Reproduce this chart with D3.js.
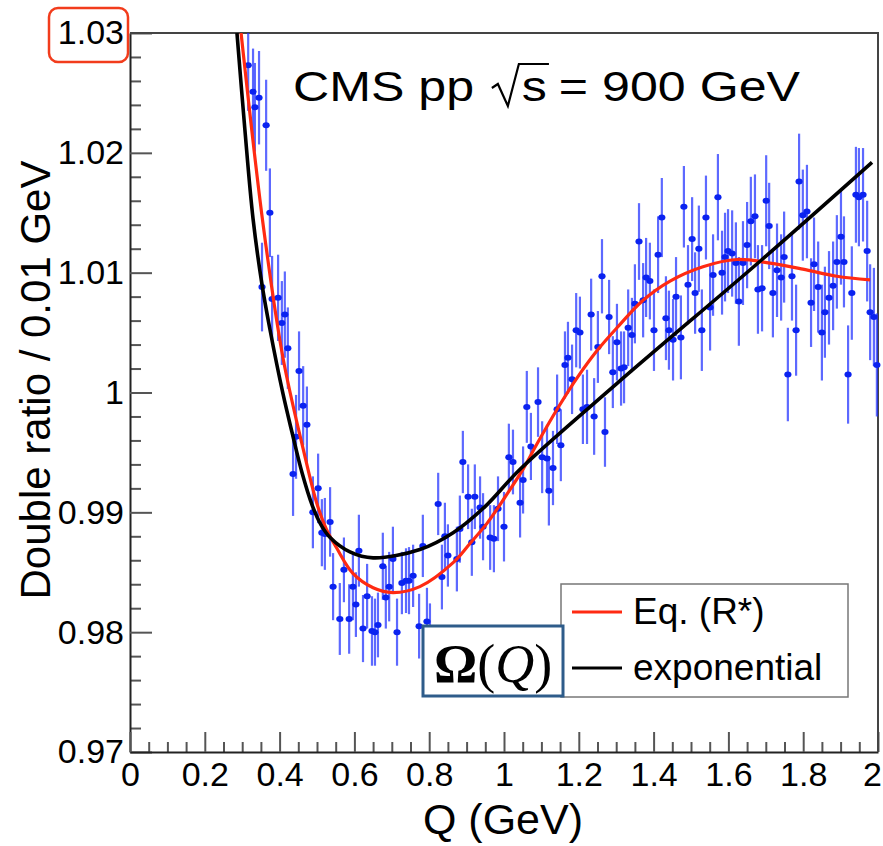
<!DOCTYPE html>
<html>
<head>
<meta charset="utf-8">
<script src="https://cdn.jsdelivr.net/npm/d3@7"></script>
<style>
  html, body { margin: 0; padding: 0; background: #fff; }
  svg { display: block; font-family: "Liberation Sans", Arial, Helvetica, sans-serif; }
</style>
</head>
<body>
<svg id="chart" width="883" height="846"></svg>
<script>
// measured points (Q in GeV), double ratio and its error
const q = [
  0.316, 0.329, 0.334, 0.345, 0.353, 0.364, 0.374, 0.380, 0.396, 0.406,
  0.414, 0.422, 0.436, 0.444, 0.452, 0.463, 0.473, 0.489, 0.503, 0.513,
  0.521, 0.535, 0.543, 0.561, 0.572, 0.586, 0.596, 0.604, 0.612, 0.623,
  0.634, 0.647, 0.655, 0.663, 0.676, 0.684, 0.693, 0.703, 0.714, 0.727,
  0.738, 0.746, 0.757, 0.773, 0.783, 0.794, 0.802, 0.824, 0.834, 0.842,
  0.850, 0.874, 0.882, 0.890, 0.904, 0.914, 0.922, 0.936, 0.944, 0.963,
  0.973, 0.984, 1.000, 1.013, 1.024, 1.043, 1.051, 1.061, 1.072, 1.091,
  1.102, 1.115, 1.120, 1.131, 1.142, 1.152, 1.163, 1.171, 1.182, 1.193,
  1.203, 1.211, 1.222, 1.233, 1.241, 1.251, 1.262, 1.270, 1.281, 1.291,
  1.302, 1.313, 1.321, 1.332, 1.342, 1.350, 1.361, 1.372, 1.380, 1.390,
  1.401, 1.412, 1.422, 1.433, 1.441, 1.452, 1.460, 1.473, 1.481, 1.492,
  1.503, 1.511, 1.521, 1.529, 1.540, 1.551, 1.559, 1.572, 1.583, 1.591,
  1.599, 1.610, 1.620, 1.628, 1.639, 1.650, 1.660, 1.671, 1.679, 1.690,
  1.701, 1.709, 1.719, 1.730, 1.741, 1.749, 1.759, 1.770, 1.781, 1.789,
  1.799, 1.810, 1.821, 1.829, 1.840, 1.850, 1.858, 1.869, 1.880, 1.890,
  1.901, 1.909, 1.920, 1.930, 1.941, 1.949, 1.960, 1.971, 1.979, 1.989,
  1.997
];
const ratio = [
  1.0273, 1.0251, 1.0238, 1.0246, 1.0088, 1.0223, 1.0150, 1.0078, 1.0079, 1.0058,
  1.0065, 1.0037, 0.9932, 0.9963, 1.0018, 0.9989, 0.9973, 0.9900, 0.9920, 0.9883,
  0.9882, 0.9892, 0.9838, 0.9811, 0.9852, 0.9811, 0.9838, 0.9823, 0.9868, 0.9803,
  0.9830, 0.9801, 0.9800, 0.9806, 0.9855, 0.9829, 0.9838, 0.9861, 0.9800, 0.9841,
  0.9843, 0.9843, 0.9847, 0.9805, 0.9872, 0.9809, 0.9797, 0.9907, 0.9846, 0.9880,
  0.9864, 0.9861, 0.9886, 0.9942, 0.9913, 0.9875, 0.9913, 0.9904, 0.9888, 0.9879,
  0.9878, 0.9903, 0.9888, 0.9946, 0.9942, 0.9908, 0.9927, 0.9988, 0.9955, 0.9992,
  0.9946, 0.9945, 0.9918, 0.9937, 0.9986, 0.9956, 1.0023, 1.0029, 1.0011, 1.0052,
  1.0050, 0.9986, 0.9988, 1.0065, 0.9980, 1.0038, 1.0097, 0.9967, 1.0063, 1.0017,
  1.0042, 1.0020, 1.0021, 1.0054, 1.0048, 1.0074, 1.0126, 1.0077, 1.0096, 1.0093,
  1.0052, 1.0115, 1.0146, 1.0062, 1.0052, 1.0044, 1.0080, 1.0046, 1.0155, 1.0090,
  1.0128, 1.0083, 1.0120, 1.0052, 1.0146, 1.0071, 1.0098, 1.0163, 1.0100, 1.0113,
  1.0118, 1.0116, 1.0108, 1.0076, 1.0108, 1.0123, 1.0143, 1.0147, 1.0086, 1.0087,
  1.0160, 1.0139, 1.0083, 1.0102, 1.0096, 1.0113, 1.0015, 1.0097, 1.0052, 1.0176,
  1.0148, 1.0151, 1.0075, 1.0107, 1.0088, 1.0050, 1.0067, 1.0079, 1.0089, 1.0109,
  1.0130, 1.0109, 1.0015, 1.0083, 1.0165, 1.0163, 1.0165, 1.0118, 1.0067, 1.0063,
  1.0023
];
const err = [
  .0038, .0036, .0037, .0039, .0037, .0038, .0037, .0036, .0036, .0035,
  .0036, .0034, .0035, .0035, .0033, .0033, .0032, .0030, .0029, .0028,
  .0030, .0029, .0028, .0030, .0027, .0029, .0028, .0027, .0030, .0028,
  .0027, .0029, .0028, .0027, .0028, .0026, .0029, .0027, .0028, .0026,
  .0027, .0028, .0026, .0027, .0026, .0028, .0027, .0026, .0027, .0028,
  .0026, .0027, .0028, .0026, .0027, .0028, .0027, .0026, .0028, .0027,
  .0028, .0027, .0029, .0028, .0027, .0029, .0028, .0030, .0028, .0029,
  .0030, .0028, .0029, .0031, .0029, .0030, .0028, .0030, .0029, .0031,
  .0030, .0029, .0031, .0030, .0032, .0030, .0031, .0029, .0031, .0030,
  .0032, .0031, .0030, .0032, .0031, .0033, .0032, .0031, .0033, .0032,
  .0034, .0032, .0033, .0035, .0033, .0034, .0033, .0035, .0034, .0033,
  .0035, .0034, .0036, .0034, .0035, .0036, .0034, .0036, .0035, .0037,
  .0035, .0036, .0034, .0037, .0035, .0036, .0037, .0035, .0037, .0036,
  .0038, .0036, .0037, .0039, .0036, .0038, .0039, .0037, .0038, .0040,
  .0038, .0039, .0037, .0039, .0038, .0040, .0038, .0039, .0037, .0039,
  .0040, .0038, .0041, .0039, .0040, .0041, .0039, .0042, .0040, .0041,
  .0043
];

// fit curves
const rStarQ = [0.297, 0.356, 0.409, 0.463, 0.500, 0.525, 0.553, 0.596, 0.650, 0.703, 0.775, 0.864,
  0.909, 0.955, 0.997, 1.051, 1.088, 1.142, 1.195, 1.249, 1.302, 1.372, 1.444, 1.532,
  1.623, 1.711, 1.799, 1.890, 1.979];
const rStarV = [1.0300, 1.0140, 1.0029, 0.9953, 0.9907, 0.9886, 0.9870, 0.9849, 0.9837, 0.9833, 0.9838, 0.9858,
  0.9874, 0.9891, 0.9910, 0.9936, 0.9957, 0.9986, 1.0012, 1.0035, 1.0054, 1.0077, 1.0093, 1.0105,
  1.0111, 1.0108, 1.0103, 1.0097, 1.0094];
const expoQ = [0.286, 0.307, 0.329, 0.353, 0.374, 0.409, 0.433, 0.460, 0.487, 0.510, 0.535,
  0.588, 0.650, 0.775, 0.864, 0.950, 1.043, 1.300, 1.690, 1.984];
const expoV = [1.0300, 1.0220, 1.0145, 1.0090, 1.0053, 0.9999, 0.9967, 0.9933, 0.9906, 0.9890, 0.9879,
  0.9867, 0.9862, 0.9869, 0.9883, 0.9905, 0.9936, 1.0007, 1.0111, 1.0192];

const xTicks = [0, 0.2, 0.4, 0.6, 0.8, 1, 1.2, 1.4, 1.6, 1.8, 2];
const yTicks = [0.97, 0.98, 0.99, 1, 1.01, 1.02, 1.03];
const legendLabels = ["Eq. (R*)", "exponential"];

const margin = { top: 33, right: 5, bottom: 94, left: 130 };
const width = 883 - margin.left - margin.right;
const height = 846 - margin.top - margin.bottom;

const svg = d3.select("#chart");
const g = svg.append("g")
  .attr("transform", "translate(" + margin.left + "," + margin.top + ")");

const x = d3.scaleLinear().domain([0, 2]).range([0, width]);
const y = d3.scaleLinear().domain([0.97, 1.03]).range([height, 0]);
const fmt = d => String(+d.toFixed(2));

// minor ticks
const yMinor = d3.range(0.972, 1.03, 0.002).filter(v => Math.abs(v * 100 - Math.round(v * 100)) > 1e-6);
const xMinor = d3.range(0.05, 2, 0.05).filter(v => Math.abs(v * 5 - Math.round(v * 5)) > 1e-6);

g.append("g").attr("class", "minor")
  .call(d3.axisLeft(y).tickValues(yMinor).tickSize(-11).tickFormat(""));
g.append("g").attr("class", "minor")
  .attr("transform", "translate(0," + height + ")")
  .call(d3.axisBottom(x).tickValues(xMinor).tickSize(-10).tickFormat(""));
g.selectAll(".minor .domain").remove();

const yAxis = g.append("g")
  .call(d3.axisLeft(y).tickValues(yTicks).tickSize(-22).tickSizeOuter(0).tickPadding(6).tickFormat(fmt));
const xAxis = g.append("g")
  .attr("transform", "translate(0," + height + ")")
  .call(d3.axisBottom(x).tickValues(xTicks).tickSize(-20).tickSizeOuter(0).tickPadding(10).tickFormat(fmt));

g.selectAll(".tick line").attr("stroke", "#555").attr("stroke-width", 2);
[xAxis, yAxis].forEach(a => {
  a.attr("font-family", null).attr("font-size", null);
  a.select(".domain").attr("stroke", "#222").attr("stroke-width", 2);
  a.selectAll("text").attr("font-size", 34).attr("fill", "#000");
});
// last x label sits against the page edge
xAxis.selectAll(".tick text").filter(d => d === 2).attr("dx", -6);

// frame top / right
g.append("path")
  .attr("d", "M0,0H" + width + "V" + height)
  .attr("fill", "none").attr("stroke", "#444").attr("stroke-width", 2);

// clip
g.append("clipPath").attr("id", "plotClip")
  .append("rect").attr("x", 0).attr("y", 0).attr("width", width + 4).attr("height", height);

const plot = g.append("g").attr("clip-path", "url(#plotClip)");
const pts = q.map((d, i) => ({ q: d, v: ratio[i], e: err[i] }));

plot.selectAll(".bar").data(pts).join("line")
  .attr("x1", d => x(d.q)).attr("x2", d => x(d.q))
  .attr("y1", d => y(d.v - d.e)).attr("y2", d => y(d.v + d.e))
  .attr("stroke", "#1f2fff").attr("stroke-opacity", 0.72).attr("stroke-width", 2.2);
plot.selectAll(".pt").data(pts).join("ellipse")
  .attr("cx", d => x(d.q)).attr("cy", d => y(d.v))
  .attr("rx", 3.6).attr("ry", 3)
  .attr("fill", "#0a22f0");

const line = d3.line().curve(d3.curveCatmullRom.alpha(0.5))
  .x(d => x(d[0])).y(d => y(d[1]));
plot.append("path")
  .attr("d", line(rStarQ.map((d, i) => [d, rStarV[i]])))
  .attr("fill", "none").attr("stroke", "#ff2a12").attr("stroke-width", 3.2);
plot.append("path")
  .attr("d", line(expoQ.map((d, i) => [d, expoV[i]])))
  .attr("fill", "none").attr("stroke", "#000").attr("stroke-width", 3.6);

// title, with a drawn radical so it can be taller than the caps
const title = svg.append("text")
  .attr("x", 293).attr("y", 101)
  .attr("font-size", 42).attr("fill", "#000");
title.append("tspan").text("CMS pp");
title.append("tspan").attr("dx", 40).text("s");
title.append("tspan").attr("dx", 10).text("= 900 GeV");
title.attr("textLength", 507).attr("lengthAdjust", "spacingAndGlyphs");
const eS = title.node().getExtentOfChar(6);
const radX = eS.x - 30, radTop = 64, radBase = 106;
svg.append("path")
  .attr("d", "M" + radX + "," + (radBase - 18) + "L" + (radX + 6) + "," + (radBase - 22) +
    "L" + (radX + 16) + "," + radBase + "L" + (radX + 27) + "," + radTop + "H" + (eS.x + eS.width + 2))
  .attr("fill", "none").attr("stroke", "#000").attr("stroke-width", 2.2);

// axis titles
svg.append("text")
  .attr("transform", "translate(50,380) rotate(-90)")
  .attr("text-anchor", "middle").attr("font-size", 42).attr("fill", "#000")
  .text("Double ratio / 0.01 GeV");
svg.append("text")
  .attr("x", 503).attr("y", 834)
  .attr("text-anchor", "middle").attr("font-size", 43).attr("fill", "#000")
  .text("Q (GeV)");

// legend
const leg = svg.append("g").attr("transform", "translate(561,584)");
leg.append("rect").attr("width", 287).attr("height", 113)
  .attr("fill", "#fff").attr("stroke", "#777").attr("stroke-width", 1.5);
const legColors = ["#ff2a12", "#000"];
legendLabels.forEach((t, i) => {
  leg.append("line").attr("x1", 11).attr("x2", 61).attr("y1", 28 + i * 56).attr("y2", 28 + i * 56)
    .attr("stroke", legColors[i]).attr("stroke-width", 3);
  leg.append("text").attr("x", 72).attr("y", 40 + i * 56)
    .attr("font-size", 37).attr("fill", "#000").text(t);
});

// Omega(Q) box
const om = svg.append("g").attr("transform", "translate(423,626)");
om.append("rect").attr("width", 140).attr("height", 70)
  .attr("fill", "#fff").attr("stroke", "#2e5c8a").attr("stroke-width", 3);
const omText = om.append("text").attr("x", 11).attr("y", 56)
  .attr("font-family", "'Liberation Serif', 'DejaVu Serif', serif").attr("font-size", 54).attr("fill", "#000");
omText.append("tspan").attr("font-weight", "bold").text("\u03A9");
omText.append("tspan").text("(");
omText.append("tspan").attr("font-style", "italic").text("Q");
omText.append("tspan").text(")");

// highlight box around top label
svg.append("rect")
  .attr("x", 49).attr("y", 8).attr("width", 79).attr("height", 54).attr("rx", 9)
  .attr("fill", "none").attr("stroke", "#f23c1c").attr("stroke-width", 2.5);
</script>
</body>
</html>
